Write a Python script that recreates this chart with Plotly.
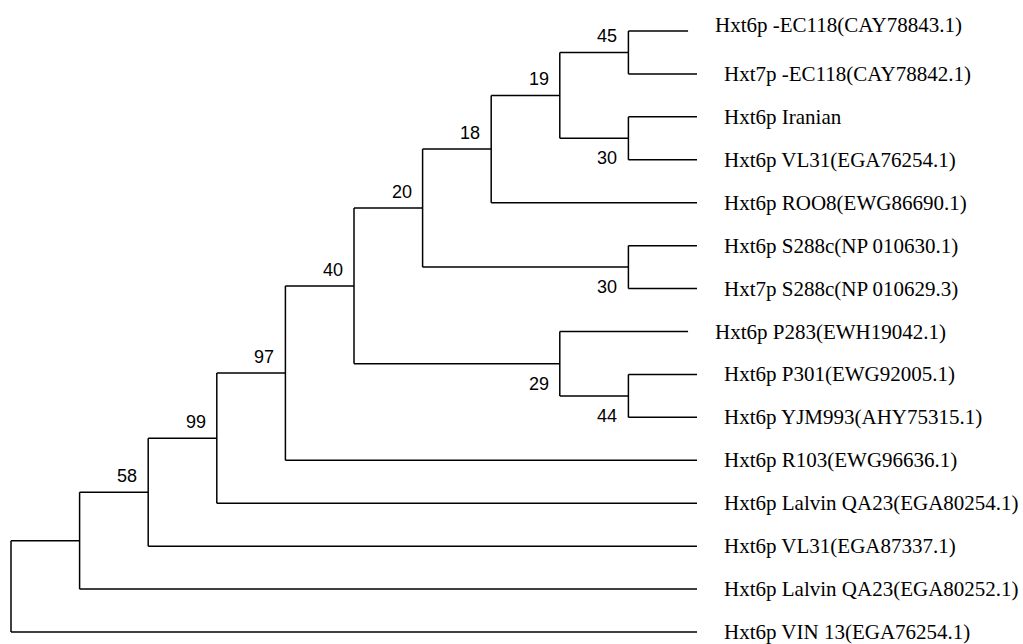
import plotly.graph_objects as go

# ---- data ----
leaf_names = [
    "Hxt6p -EC118(CAY78843.1)",
    "Hxt7p -EC118(CAY78842.1)",
    "Hxt6p Iranian",
    "Hxt6p VL31(EGA76254.1)",
    "Hxt6p ROO8(EWG86690.1)",
    "Hxt6p S288c(NP 010630.1)",
    "Hxt7p S288c(NP 010629.3)",
    "Hxt6p P283(EWH19042.1)",
    "Hxt6p P301(EWG92005.1)",
    "Hxt6p YJM993(AHY75315.1)",
    "Hxt6p R103(EWG96636.1)",
    "Hxt6p Lalvin QA23(EGA80254.1)",
    "Hxt6p VL31(EGA87337.1)",
    "Hxt6p Lalvin QA23(EGA80252.1)",
    "Hxt6p VIN 13(EGA76254.1)",
]
leaf_depth = [9.87, 10, 10, 10, 10, 10, 10, 9.87, 10, 10, 10, 10, 10, 10, 10]

# internal nodes
node_names = ["root", "A", "N58", "N99", "N97", "N40", "N20", "N18", "N19",
              "N45", "N30a", "N30b", "N29", "N44"]
node_depth = [0, 1, 2, 3, 4, 5, 6, 7, 8, 9, 9, 9, 8, 9]
node_children = [
    ["A", 14],
    ["N58", 13],
    ["N99", 12],
    ["N97", 11],
    ["N40", 10],
    ["N20", "N29"],
    ["N18", "N30b"],
    ["N19", 4],
    ["N45", "N30a"],
    [0, 1],
    [2, 3],
    [5, 6],
    [7, "N44"],
    [8, 9],
]
node_support = ["", "", "58", "99", "97", "40", "20", "18", "19",
                "45", "30", "30", "29", "44"]
node_label_side = ["", "", "above", "above", "above", "above", "above", "above",
                   "above", "above", "below", "below", "below", "below"]

# ---- layout computation ----
nodes = {n: dict(depth=d, children=c) for n, d, c in zip(node_names, node_depth, node_children)}

def pos(ref):
    if isinstance(ref, int):
        return leaf_depth[ref], float(ref)
    nd = nodes[ref]
    ys = [pos(c)[1] for c in nd["children"]]
    return nd["depth"], (min(ys) + max(ys)) / 2.0

xs, ys = [], []
for n in node_names:
    nx, ny = pos(n)
    cpos = [pos(c) for c in nodes[n]["children"]]
    cy = [p[1] for p in cpos]
    xs += [nx, nx, None]
    ys += [min(cy), max(cy), None]
    for cx, cyy in cpos:
        xs += [nx, cx, None]
        ys += [cyy, cyy, None]

fig = go.Figure()
fig.add_trace(go.Scatter(x=xs, y=ys, mode="lines",
                         line=dict(color="black", width=1.5),
                         hoverinfo="skip", showlegend=False))

annotations = []
for n, lab, side in zip(node_names, node_support, node_label_side):
    if not lab:
        continue
    nx, ny = pos(n)
    annotations.append(dict(
        x=nx, y=ny, xref="x", yref="y", text=lab, showarrow=False,
        xanchor="right", yanchor="middle", xshift=-9,
        yshift=16 if side == "above" else -20,
        font=dict(family="Liberation Sans, Arial, sans-serif", size=18, color="black"),
    ))

for i, (name, d) in enumerate(zip(leaf_names, leaf_depth)):
    annotations.append(dict(
        x=d, y=i, xref="x", yref="y", text=name, showarrow=False,
        xanchor="left", yanchor="middle", xshift=25,
        yshift=6 if i == 0 else 0,
        font=dict(family="Liberation Serif, Times New Roman, serif", size=21, color="black"),
    ))

x0_px, unit_x = 11.0, 68.6
y0_px, unit_y = 31.0, 42.93
W, H = 1023, 644

fig.update_layout(
    width=W, height=H,
    margin=dict(l=0, r=0, t=0, b=0),
    paper_bgcolor="white", plot_bgcolor="white",
    showlegend=False,
    annotations=annotations,
    xaxis=dict(range=[-x0_px / unit_x, (W - x0_px) / unit_x], visible=False, fixedrange=True),
    yaxis=dict(range=[(H - y0_px) / unit_y, -y0_px / unit_y], visible=False, fixedrange=True),
)

fig.write_html("out.html", config={"displayModeBar": False},
               post_script="document.body.style.margin='0';document.body.style.overflow='hidden';")
